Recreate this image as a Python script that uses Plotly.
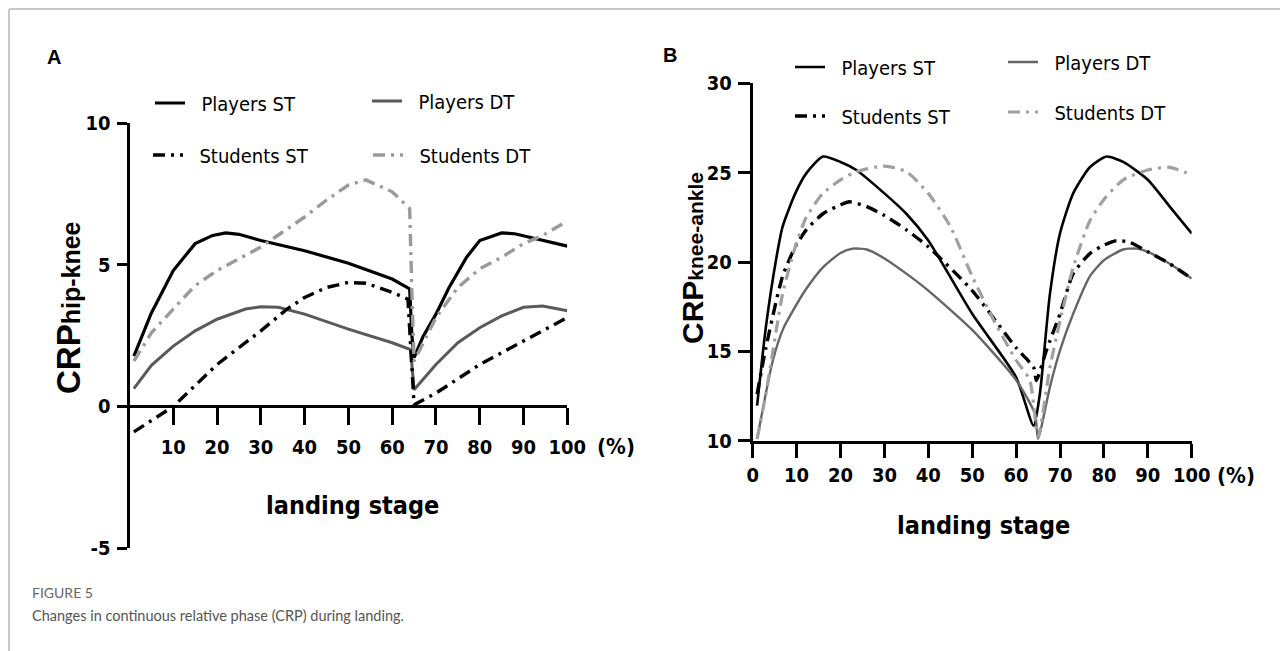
import plotly.graph_objects as go

# page is 1288x651; the page body adds an 8px margin, so the figure is 8px smaller
OFF = 8
W, H = 1288 - OFF, 651 - OFF

# ---------------- Panel A data (CRP hip-knee) ----------------
a_players_st_x = [1, 5, 10, 15, 19, 22, 25, 30, 40, 50, 60, 64, 64.5, 65, 67, 70, 73, 77, 80, 85, 88, 92, 100]
a_players_st_y = [1.78, 3.3, 4.8, 5.75, 6.04, 6.13, 6.08, 5.86, 5.5, 5.06, 4.5, 4.15, 2.5, 1.72, 2.45, 3.26, 4.2, 5.27, 5.86, 6.13, 6.1, 5.96, 5.66]

a_players_dt_x = [1, 5, 10, 15, 20, 26.5, 30, 34, 40, 50, 60, 64.2, 65, 70, 75, 80, 85, 90, 94.4, 100]
a_players_dt_y = [0.63, 1.45, 2.13, 2.67, 3.08, 3.44, 3.52, 3.5, 3.26, 2.73, 2.25, 2.01, 0.59, 1.48, 2.25, 2.78, 3.2, 3.5, 3.55, 3.38]

a_students_st_x = [1, 5, 10, 20, 30, 36, 40, 45, 50, 54, 60, 63.6, 64.5, 65, 70, 80, 90, 100]
a_students_st_y = [-0.9, -0.5, 0.0, 1.48, 2.67, 3.44, 3.85, 4.2, 4.38, 4.35, 4.03, 3.79, 1.5, 0.06, 0.47, 1.48, 2.31, 3.14]

a_students_dt_x = [1, 5, 10, 15, 20, 30, 40, 45, 50, 54, 60, 64, 64.5, 65, 70, 75, 80, 85, 90, 94.4, 99, 100]
a_students_dt_y = [1.6, 2.6, 3.44, 4.27, 4.8, 5.63, 6.69, 7.29, 7.82, 8.0, 7.58, 6.99, 4.0, 1.6, 3.14, 4.2, 4.86, 5.27, 5.75, 6.04, 6.46, 6.55]

# ---------------- Panel B data (CRP knee-ankle) ----------------
b_players_st_x = [1, 3, 5.3, 6.8, 9.7, 12.2, 16, 20, 23.6, 30, 35, 40, 50, 60, 64, 65.4, 67.7, 70, 73, 76.8, 80.6, 84.4, 90, 95, 100]
b_players_st_y = [11.96, 16.36, 20.1, 21.97, 23.84, 24.96, 25.9, 25.6, 25.15, 23.84, 22.7, 21.2, 17.1, 13.55, 10.84, 12.6, 18.2, 21.6, 23.84, 25.3, 25.9, 25.6, 24.6, 23.1, 21.6]

b_players_dt_x = [1, 4.6, 7, 9.7, 12.2, 16, 20, 22.8, 26, 30, 35, 40, 50, 60, 64.3, 65, 67.7, 70, 73, 76.8, 80, 84.4, 87.5, 90, 95, 100]
b_players_dt_y = [10.1, 14.5, 16.3, 17.5, 18.5, 19.7, 20.5, 20.75, 20.7, 20.2, 19.35, 18.4, 16.2, 13.4, 11.5, 10.1, 13.0, 15.05, 17.1, 19.2, 20.1, 20.7, 20.75, 20.57, 19.9, 19.07]

b_students_st_x = [1, 3, 6.8, 9.7, 12.2, 16, 20, 22, 26, 30, 35, 40, 50, 60, 64, 64.6, 66.9, 70, 73, 76.8, 80, 82.9, 85.9, 90, 95, 100]
b_students_st_y = [12.6, 15.2, 19.2, 20.85, 21.8, 22.7, 23.2, 23.37, 23.1, 22.6, 21.8, 20.85, 18.4, 15.2, 14.1, 13.37, 15.05, 17.1, 19.35, 20.47, 20.94, 21.2, 21.1, 20.57, 19.9, 19.07]

b_students_dt_x = [1, 3, 6.8, 9.7, 12.2, 16, 20, 23.6, 30, 35, 40, 45, 50, 55, 60, 63.1, 65, 67.7, 70, 73, 76.8, 80, 84.4, 90, 95, 100]
b_students_dt_y = [10.1, 12.6, 18.2, 20.85, 22.5, 23.84, 24.6, 25.05, 25.37, 25.05, 23.84, 22.0, 19.2, 16.7, 14.5, 13.4, 10.2, 14.1, 16.7, 19.7, 22.3, 23.5, 24.6, 25.15, 25.3, 24.87]

series_names = ["Players ST", "Players DT", "Students ST", "Students DT"]
a_xticks = [10, 20, 30, 40, 50, 60, 70, 80, 90, 100]
a_yticks = [-5, 0, 5, 10]
a_yticklabels = ["-5", "0", "5", "10"]
b_xticks = [0, 10, 20, 30, 40, 50, 60, 70, 80, 90, 100]
b_yticks = [10, 15, 20, 25, 30]

# ---------------- styling ----------------
NARROW = "DejaVu Sans Condensed, Liberation Sans Narrow, sans-serif"
ARIAL = "Liberation Sans, Arial, sans-serif"
DASHDOT = "12px,6px,3px,6px"

def px2x(p):
    return (p - OFF) / W

def px2y(p):
    return 1 - (p - OFF) / H

fig = go.Figure()

styles_a = [
    dict(color="#000000", width=3.2, dash="solid"),
    dict(color="#5a5a5a", width=3.0, dash="solid"),
    dict(color="#000000", width=3.4, dash=DASHDOT),
    dict(color="#9a9a9a", width=3.4, dash=DASHDOT),
]
styles_b = [
    dict(color="#000000", width=2.6, dash="solid"),
    dict(color="#666666", width=2.4, dash="solid"),
    dict(color="#000000", width=3.4, dash=DASHDOT),
    dict(color="#a0a0a0", width=3.2, dash=DASHDOT),
]

a_data = [(a_players_st_x, a_players_st_y), (a_players_dt_x, a_players_dt_y),
          (a_students_st_x, a_students_st_y), (a_students_dt_x, a_students_dt_y)]
b_data = [(b_players_st_x, b_players_st_y), (b_players_dt_x, b_players_dt_y),
          (b_students_st_x, b_students_st_y), (b_students_dt_x, b_students_dt_y)]

legend_ids_a = ["legend", "legend2", "legend3", "legend4"]
legend_ids_b = ["legend5", "legend6", "legend7", "legend8"]
PAD = "\u00a0\u00a0"

for i, (xs, ys) in enumerate(a_data):
    fig.add_trace(go.Scatter(x=xs, y=ys, mode="lines", name=PAD + series_names[i],
                             line=styles_a[i], xaxis="x", yaxis="y",
                             legend=legend_ids_a[i], hoverinfo="skip"))
for i, (xs, ys) in enumerate(b_data):
    fig.add_trace(go.Scatter(x=xs, y=ys, mode="lines", name=PAD + series_names[i],
                             line=dict(**styles_b[i], shape="spline", smoothing=0.6),
                             xaxis="x2", yaxis="y2",
                             legend=legend_ids_b[i], hoverinfo="skip"))

# domains (pixel based, page coordinates)
ax_dom_x = [px2x(129.5), px2x(567.3)]
ax_dom_y = [px2y(548), px2y(123.3)]
bx_dom_x = [px2x(752.7), px2x(1191.7)]
bx_dom_y = [px2y(440.7), px2y(83.3)]

a_yrange = [-5, 10]
a_zero_pos = ax_dom_y[0] + (0 - a_yrange[0]) / (a_yrange[1] - a_yrange[0]) * (ax_dom_y[1] - ax_dom_y[0])

tickfont = dict(family=NARROW, size=20, color="#000000", weight="bold")
common = dict(showgrid=False, zeroline=False, showline=True, linecolor="#000000",
              linewidth=3, ticks="outside", tickwidth=3, tickcolor="#000000")

fig.update_layout(
    width=W, height=H, autosize=False,
    margin=dict(l=0, r=0, t=0, b=0, autoexpand=False),
    paper_bgcolor="white", plot_bgcolor="rgba(0,0,0,0)",
    xaxis=dict(domain=ax_dom_x, range=[0, 100], anchor="free", position=a_zero_pos,
               tickvals=a_xticks, ticklen=17, tickfont=tickfont, ticklabelstandoff=5, **common),
    yaxis=dict(domain=ax_dom_y, range=a_yrange, anchor="x", tickvals=a_yticks,
               ticktext=a_yticklabels,
               ticklen=10, tickfont=tickfont, ticklabelstandoff=2, **common),
    xaxis2=dict(domain=bx_dom_x, range=[0, 100], anchor="y2", tickvals=b_xticks,
                ticklen=14, tickfont=tickfont, ticklabelstandoff=0, **common),
    yaxis2=dict(domain=bx_dom_y, range=[10, 30], anchor="x2", tickvals=b_yticks,
                ticklen=12, tickfont=tickfont, ticklabelstandoff=2, **common),
    showlegend=True,
)

# legends: one per entry, placed like the reference's 2x2 legend blocks
legfont = dict(family=NARROW, size=20, color="#000000")
leg_pos_a = [(150, 103), (367, 101), (148, 155), (368, 155)]
leg_pos_b = [(790, 67), (1003, 62), (790, 116), (1003, 112)]
leg_layout = {}
for lid, (lx, ly) in zip(legend_ids_a + legend_ids_b, leg_pos_a + leg_pos_b):
    leg_layout[lid] = dict(x=px2x(lx), y=px2y(ly), xanchor="left", yanchor="middle",
                           font=legfont, bgcolor="rgba(0,0,0,0)", borderwidth=0,
                           itemclick=False, itemdoubleclick=False)
fig.update_layout(**leg_layout)

# annotations
ann = []
def add_text(text, x, y, size, family, color="#000000", angle=0, xanchor="center", yanchor="middle"):
    ann.append(dict(text=text, x=px2x(x), y=px2y(y), xref="paper", yref="paper",
                    showarrow=False, font=dict(size=size, family=family, color=color),
                    textangle=angle, xanchor=xanchor, yanchor=yanchor))

add_text("<b>A</b>", 54, 57, 20, ARIAL)
add_text("<b>B</b>", 670, 55, 20, ARIAL)
add_text("<b>(%)</b>", 616, 446, 22, NARROW)
add_text("<b>(%)</b>", 1236, 475, 22, NARROW)
add_text("<b>landing stage</b>", 352, 505, 25, NARROW)
add_text("<b>landing stage</b>", 983, 525, 25, NARROW)
add_text("<b>CRP<span style='font-size:25px'>hip-knee</span></b>", 68, 308, 33, ARIAL, angle=-90)
add_text("<b>CRP<span style='font-size:21px'>knee-ankle</span></b>", 692, 258, 30, ARIAL, angle=-90)
add_text("FIGURE 5", 30, 592, 14, "Lato, Open Sans, sans-serif", color="#666666", xanchor="left")
add_text("Changes in continuous relative phase (CRP) during landing.", 30, 615, 14.5,
         "Lato, Open Sans, sans-serif", color="#555555", xanchor="left")
fig.update_layout(annotations=ann)

# frame lines of the figure box
fig.update_layout(shapes=[
    dict(type="line", xref="paper", yref="paper", x0=px2x(9), x1=1, y0=px2y(9), y1=px2y(9),
         line=dict(color="#c8c8c8", width=2)),
    dict(type="line", xref="paper", yref="paper", x0=px2x(9), x1=px2x(9), y0=px2y(9), y1=0,
         line=dict(color="#c8c8c8", width=2)),
])

fig.write_html("out.html")
